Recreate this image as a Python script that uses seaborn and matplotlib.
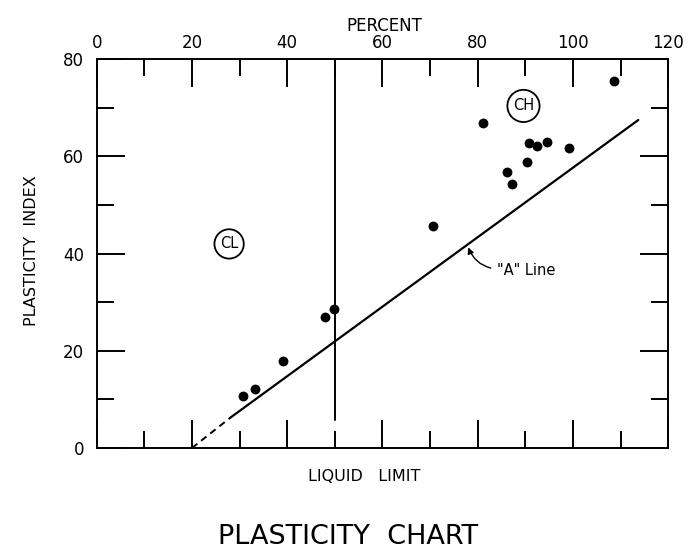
"""Plasticity chart (Casagrande): liquid limit vs plasticity index of soil samples."""

import matplotlib.pyplot as plt
import seaborn as sns
from matplotlib.ticker import MultipleLocator

# Soil samples (liquid limit %, plasticity index %)
LIQUID_LIMIT = [30.7, 33.2, 39.2, 47.9, 49.9, 70.7, 81.2, 86.1, 87.1,
                90.3, 90.8, 92.5, 94.5, 99.2, 108.6]
PLASTICITY_INDEX = [10.8, 12.1, 18.0, 27.0, 28.7, 45.7, 66.9, 56.7, 54.4,
                    58.8, 62.7, 62.2, 63.0, 61.7, 75.6]

# "A" line: dashed stub, then the solid part
A_DASHED_LL = [20.0, 28.0]
A_DASHED_PI = [0.0, 6.2]
A_SOLID_LL = [28.0, 113.7]
A_SOLID_PI = [6.2, 67.5]

# Vertical divider at liquid limit 50
DIVIDER_LL = [50.0, 50.0]
DIVIDER_PI = [5.8, 80.0]

# Soil group labels
GROUPS = ["CL", "CH"]
GROUP_LL = [27.8, 89.6]
GROUP_PI = [42.0, 70.4]

X_TICKS = [0, 20, 40, 60, 80, 100, 120]
Y_TICKS = [0, 20, 40, 60, 80]


def main() -> None:
    sns.set_theme(style="ticks")
    plt.rcParams["font.family"] = ["DejaVu Sans"]
    plt.rcParams.update({"text.color": "black", "axes.labelcolor": "black",
                         "xtick.color": "black", "ytick.color": "black"})

    fig = plt.figure(figsize=(6.97, 5.54), dpi=100)
    ax = fig.add_axes([0.1387, 0.1913, 0.8201, 0.7017])

    sns.lineplot(x=A_DASHED_LL, y=A_DASHED_PI, ax=ax, color="black", lw=1.4,
                 linestyle=(0, (3.5, 2.5)), sort=False, estimator=None)
    sns.lineplot(x=A_SOLID_LL, y=A_SOLID_PI, ax=ax, color="black", lw=1.6,
                 sort=False, estimator=None)
    sns.lineplot(x=DIVIDER_LL, y=DIVIDER_PI, ax=ax, color="black", lw=1.4,
                 sort=False, estimator=None)
    sns.scatterplot(x=LIQUID_LIMIT, y=PLASTICITY_INDEX, ax=ax, color="black",
                    s=50, linewidth=0, zorder=5)

    for name, ll, pi in zip(GROUPS, GROUP_LL, GROUP_PI):
        ax.text(ll, pi, name, ha="center", va="center", fontsize=10.5,
                bbox=dict(boxstyle="circle,pad=0.38", fc="white", ec="black", lw=1.3))

    ax.annotate('"A" Line', xy=(78.0, 41.3), xytext=(84.0, 36.5),
                ha="left", va="center", fontsize=10.5,
                arrowprops=dict(arrowstyle="-|>", color="black", lw=1.0,
                                connectionstyle="arc3,rad=-0.3",
                                relpos=(0, 0.6), shrinkA=2, shrinkB=0,
                                mutation_scale=9))

    ax.set_xlim(0, 120)
    ax.set_ylim(0, 80)
    ax.set_xticks(X_TICKS)
    ax.set_yticks(Y_TICKS)
    ax.xaxis.set_minor_locator(MultipleLocator(10))
    ax.yaxis.set_minor_locator(MultipleLocator(10))
    ax.tick_params(axis="x", which="both", direction="in", top=True, bottom=True,
                   labeltop=True, labelbottom=False, width=1.4, color="black")
    ax.tick_params(axis="y", which="both", direction="in", left=True, right=True,
                   labelleft=True, labelright=False, width=1.4, color="black")
    ax.tick_params(which="major", length=20, labelsize=12, pad=5)
    ax.tick_params(which="minor", length=12)
    ax.tick_params(axis="y", which="major", pad=9)
    for spine in ax.spines.values():
        spine.set_linewidth(1.4)
        spine.set_color("black")

    ax.set_xlabel("LIQUID   LIMIT", fontsize=11.5)
    ax.xaxis.set_label_position("bottom")
    ax.xaxis.set_label_coords(0.468, -0.054)
    ax.set_ylabel("PLASTICITY  INDEX", fontsize=11.5)
    ax.yaxis.set_label_coords(-0.101, 0.509)
    ax.text(0.504, 1.086, "PERCENT", transform=ax.transAxes,
            ha="center", va="center", fontsize=12)

    fig.suptitle("PLASTICITY  CHART", x=0.5, y=0.031, va="center", fontsize=19.5)

    fig.savefig("out.png", dpi=100)
    plt.close(fig)


if __name__ == "__main__":
    main()
